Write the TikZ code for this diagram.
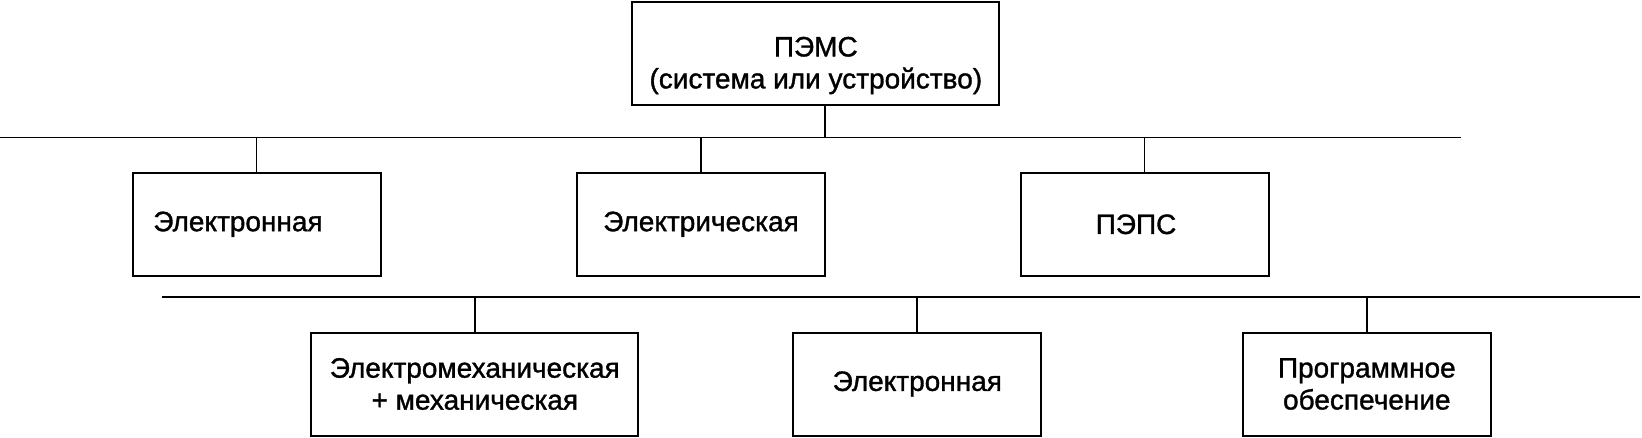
\documentclass[tikz,border=0pt]{standalone}
\usepackage{fontspec}
\setmainfont[RawFeature={embolden=1.2}]{Liberation Sans}
\begin{document}
\begin{tikzpicture}[x=1pt, y=-1pt, every node/.style={font=\fontsize{28}{32}\selectfont}]
    \tikzset{
        blok/.style={draw, line width=2pt, minimum width=248pt, minimum height=103pt, inner sep=0pt, align=center},
        svyaz/.style={line width=1.8pt},
    }
    \useasboundingbox (0,0) rectangle (1642,437);
    % Верхний блок
    \node[blok, minimum width=367pt] (pems) at (815.8,53.3) {\rule{0pt}{44pt}ПЭМС\\(система или устройство)};
    % Шины
    \coordinate (shina1) at (0,137.3);
    \coordinate (shina1end) at (1461,137.3);
    \coordinate (shina2) at (161.8,296.7);
    \coordinate (shina2end) at (1640,296.7);
    \draw[line width=1pt] (shina1) -- (shina1end);
    \draw[line width=2pt] (shina2) -- (shina2end);
    \coordinate (vhod) at (825,137.3);
    \draw[svyaz] (vhod) -- (vhod |- pems.south);
    % Второй уровень
    \node[blok] (elektron1) at (256.5,224.3) {Электронная\hspace*{37pt}};
    \node[blok] (elektr)    at (701,224.3)   {Электрическая};
    \node[blok] (peps)      at (1144.5,224.3) {ПЭПС\hspace*{17pt}};
    % Третий уровень
    \node[blok, minimum width=327pt] (mech) at (474.8,384) {Электромеханическая\\+ механическая};
    \node[blok] (elektron2) at (917.3,384)  {Электронная};
    \node[blok] (po)        at (1366.8,384) {Программное\\обеспечение};
    \foreach \b in {elektron1, elektr, peps}
        \draw[svyaz] (\b.north) -- (\b.north |- shina1);
    \foreach \b in {mech, elektron2, po}
        \draw[svyaz] (\b.north) -- (\b.north |- shina2);
\end{tikzpicture}
\end{document}
